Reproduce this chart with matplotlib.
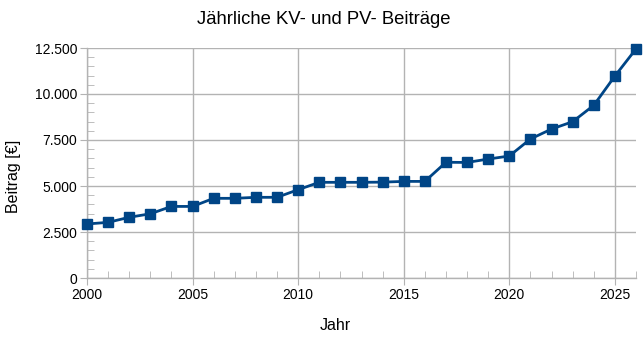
import matplotlib
matplotlib.use("Agg")
import matplotlib.pyplot as plt
from matplotlib.ticker import MultipleLocator, FuncFormatter

plt.rcParams['font.family'] = ['Liberation Sans', 'DejaVu Sans']

jahre = list(range(2000, 2027))
beitrag = [2935, 3025, 3300, 3490, 3890, 3890, 4330, 4330, 4385, 4385,
           4800, 5200, 5200, 5200, 5210, 5250, 5250, 6290, 6280, 6465,
           6630, 7555, 8095, 8495, 9385, 10975, 12450]

grid_col = '#b3b3b3'
line_col = '#004586'
W, H = 644, 339

fig = plt.figure(figsize=(W / 100, H / 100), dpi=100)
ax = fig.add_axes([87 / W, 1 - 278 / H, (636 - 87) / W, (278 - 48) / H])

ax.plot(jahre, beitrag, color=line_col, linewidth=2, marker='s', markersize=7,
        markerfacecolor=line_col, markeredgecolor=line_col, zorder=3, clip_on=False)

ax.set_xlim(2000, 2026)
ax.set_ylim(0, 12500)
ax.xaxis.set_major_locator(MultipleLocator(5))
ax.xaxis.set_minor_locator(MultipleLocator(1))
ax.yaxis.set_major_locator(MultipleLocator(2500))
ax.yaxis.set_minor_locator(MultipleLocator(500))
ax.yaxis.set_major_formatter(FuncFormatter(lambda v, p: f'{int(v):,}'.replace(',', '.')))

ax.grid(True, which='major', color=grid_col, linewidth=1)
ax.set_axisbelow(True)
for s in ax.spines.values():
    s.set_color(grid_col)
    s.set_linewidth(1)
ax.spines['top'].set_visible(False)
ax.spines['right'].set_visible(False)

ax.tick_params(which='major', direction='out', length=5, color=grid_col,
               labelsize=10, labelcolor='black', pad=2)
ax.tick_params(which='minor', direction='in', length=5, color=grid_col)

# titles placed in figure pixels like the original export
fig.text(324 / W, 1 - 19 / H, 'Jährliche KV- und PV- Beiträge', fontsize=13.3,
         ha='center', va='center')
fig.text(335 / W, 1 - 326 / H, 'Jahr', fontsize=11.5, ha='center', va='center')
fig.text(13.5 / W, 1 - 176 / H, 'Beitrag [€]', fontsize=11.5, rotation=90,
         ha='center', va='center')

fig.savefig('out.png', dpi=100)
